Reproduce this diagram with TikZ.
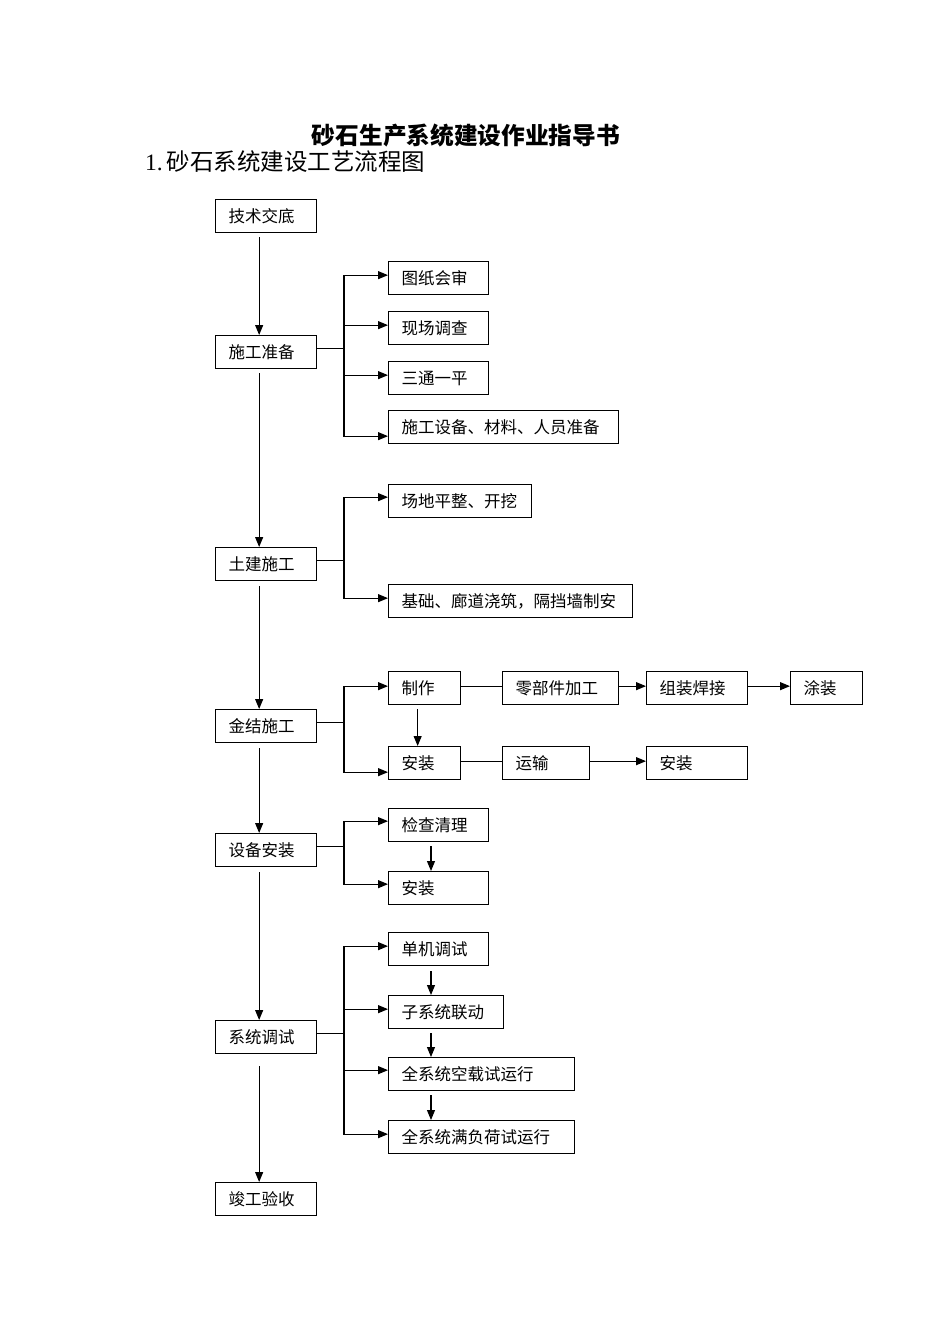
\documentclass[tikz,border=0pt]{standalone}
\usepackage{fontspec}
\setmainfont{Liberation Serif}
\newfontfamily\cjk{Noto Sans CJK SC}
\usetikzlibrary{arrows.meta}
\tikzset{
  box/.style={draw, line width=1.3pt, anchor=north west, minimum height=33pt,
    inner xsep=0pt, inner ysep=0pt, align=left, text width=#1,
    font=\cjk\fontsize{16.5}{16.5}\selectfont},
  conn/.style={line width=1.1pt},
  arr/.style={conn, -{Triangle[length=10pt,width=8pt]}},
}
\newcommand\pad{\hspace*{13pt}}
\begin{document}
\begin{tikzpicture}[x=1pt,y=-1pt]
\useasboundingbox (0,0) rectangle (950,1344);
% titles
\node[font=\cjk\bfseries\fontsize{23.7}{24}\selectfont] (title) at (466,136) {砂石生产系统建设作业指导书};
\node[anchor=west, inner sep=0pt, font=\fontsize{23.5}{24}\selectfont] (sub) at (145,162) {1.\,{\cjk 砂石系统建设工艺流程图}};
% main column
\node[box=101] (a1) at (215,199) {\pad 技术交底};
\node[box=101] (a2) at (215,335) {\pad 施工准备};
\node[box=101] (a3) at (215,547) {\pad 土建施工};
\node[box=101] (a4) at (215,709) {\pad 金结施工};
\node[box=101] (a5) at (215,833) {\pad 设备安装};
\node[box=101] (a6) at (215,1020) {\pad 系统调试};
\node[box=101] (a7) at (215,1182) {\pad 竣工验收};
% branches
\node[box=100] (b1) at (388,261) {\pad 图纸会审};
\node[box=100] (b2) at (388,311) {\pad 现场调查};
\node[box=100] (b3) at (388,361) {\pad 三通一平};
\node[box=230] (b4) at (388,410) {\pad 施工设备、材料、人员准备};
\node[box=143] (c1) at (388,484) {\pad 场地平整、开挖};
\node[box=244] (c2) at (388,584) {\pad 基础、廊道浇筑，隔挡墙制安};
\node[box=72] (d1) at (388,671) {\pad 制作};
\node[box=116] (d2) at (502,671) {\pad 零部件加工};
\node[box=101] (d3) at (646,671) {\pad 组装焊接};
\node[box=72] (d4) at (790,671) {\pad 涂装};
\node[box=72] (d5) at (388,746) {\pad 安装};
\node[box=87] (d6) at (502,746) {\pad 运输};
\node[box=101] (d7) at (646,746) {\pad 安装};
\node[box=100] (e1) at (388,808) {\pad 检查清理};
\node[box=100] (e2) at (388,871) {\pad 安装};
\node[box=100] (f1) at (388,932) {\pad 单机调试};
\node[box=115] (f2) at (388,995) {\pad 子系统联动};
\node[box=186] (f3) at (388,1057) {\pad 全系统空载试运行};
\node[box=186] (f4) at (388,1120) {\pad 全系统满负荷试运行};
% main vertical arrows
\draw[arr] ([xshift=-7pt,yshift=-4pt]a1.south) -- ([xshift=-7pt]a2.north);
\draw[arr] ([xshift=-7pt,yshift=-4pt]a2.south) -- ([xshift=-7pt]a3.north);
\draw[arr] ([xshift=-7pt,yshift=-5pt]a3.south) -- ([xshift=-7pt]a4.north);
\draw[arr] ([xshift=-7pt,yshift=-5pt]a4.south) -- ([xshift=-7pt]a5.north);
\draw[arr] ([xshift=-7pt,yshift=-5pt]a5.south) -- ([xshift=-7pt]a6.north);
\draw[arr] ([xshift=-7pt,yshift=-12pt]a6.south) -- ([xshift=-7pt]a7.north);
% junction x
\coordinate (j) at (344,0);
\newcommand\branch[3]{%
  \coordinate (p) at ([yshift=4pt]#1.east);
  \coordinate (t) at ([yshift=#3]#2.west);
  \draw[arr] (p) -- (j |- p) -- (j |- t) -- (t);}
\branch{a2}{b1}{3pt}
\branch{a2}{b2}{3pt}
\branch{a2}{b3}{3pt}
\branch{a2}{b4}{-9pt}
\branch{a3}{c1}{4pt}
\branch{a3}{c2}{3pt}
\branch{a4}{d1}{2pt}
\branch{a4}{d5}{-9pt}
\branch{a5}{e1}{4pt}
\branch{a5}{e2}{4pt}
\branch{a6}{f1}{3pt}
\branch{a6}{f2}{3pt}
\branch{a6}{f3}{4pt}
\branch{a6}{f4}{3pt}
% metal structure chain
\draw[conn] ([yshift=2pt]d1.east) -- ([yshift=2pt]d2.west);
\draw[arr] ([yshift=2pt]d2.east) -- ([yshift=2pt]d3.west);
\draw[arr] ([yshift=2pt]d3.east) -- ([yshift=2pt]d4.west);
\draw[arr] ([xshift=-7pt,yshift=-4pt]d1.south) -- ([xshift=-7pt]d5.north);
\draw[conn] ([yshift=2pt]d5.east) -- ([yshift=2pt]d6.west);
\draw[arr] ([yshift=2pt]d6.east) -- ([yshift=2pt]d7.west);
% vertical sub-steps
\coordinate (v) at (431,0);
\coordinate (s0) at ([yshift=-4pt]e1.south);
\coordinate (s1) at ([yshift=-5pt]f1.south);
\coordinate (s2) at ([yshift=-4pt]f2.south);
\coordinate (s3) at ([yshift=-4pt]f3.south);
\draw[arr] (s0 -| v) -- (e2.north -| v);
\draw[arr] (s1 -| v) -- (f2.north -| v);
\draw[arr] (s2 -| v) -- (f3.north -| v);
\draw[arr] (s3 -| v) -- (f4.north -| v);
\end{tikzpicture}
\end{document}
